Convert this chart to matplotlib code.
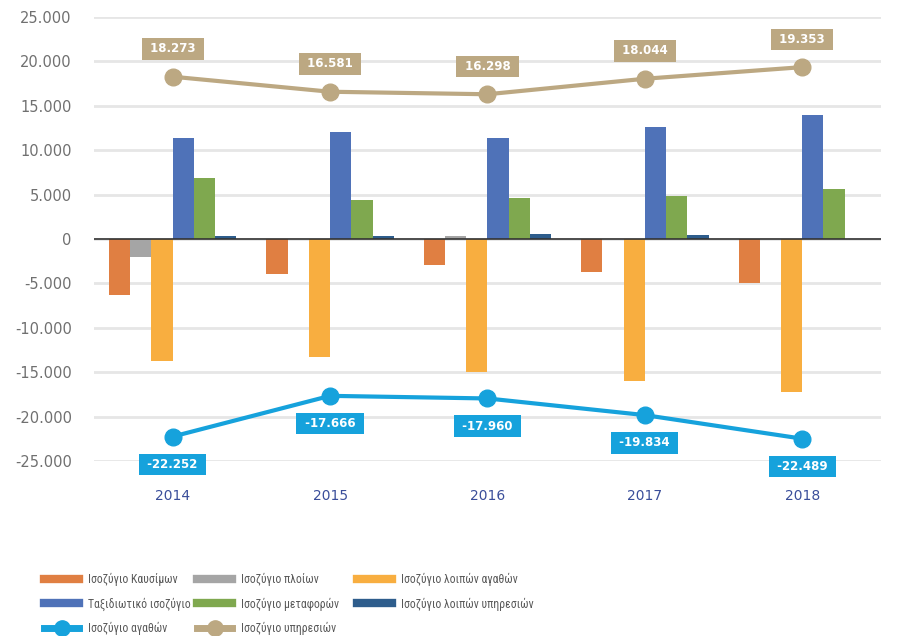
import numpy as np
import matplotlib
matplotlib.use('agg')
from matplotlib import pyplot as plt
from matplotlib import font_manager
from matplotlib.lines import Line2D
from matplotlib.ticker import FuncFormatter

years = ['2014', '2015', '2016', '2017', '2018']

fuel = [-6270, -4000, -2900, -3700, -5000]
ships = [-2000, 0, 350, 0, 0]
other_goods = [-13700, -13250, -14950, -16050, -17200]
travel = [11400, 12050, 11400, 12600, 13950]
transport = [6900, 4400, 4600, 4850, 5630]
other_services = [350, 350, 560, 450, 0]

goods_balance = [-22252, -17666, -17960, -19834, -22489]
services_balance = [18273, 16581, 16298, 18044, 19353]

bar_series = [
    ('Ισοζύγιο Καυσίμων', fuel, '#E07F42'),
    ('Ισοζύγιο πλοίων', ships, '#A5A5A5'),
    ('Ισοζύγιο λοιπών αγαθών', other_goods, '#F8AE40'),
    ('Ταξιδιωτικό ισοζύγιο', travel, '#4F72B8'),
    ('Ισοζύγιο μεταφορών', transport, '#7FA84F'),
    ('Ισοζύγιο λοιπών υπηρεσιών', other_services, '#2E5D8C'),
]
goods_name = 'Ισοζύγιο αγαθών'
services_name = 'Ισοζύγιο υπηρεσιών'
goods_color = '#16A2DC'
services_color = '#BCA882'

available = {f.name for f in font_manager.fontManager.ttflist}
legend_font = 'DejaVu Sans'
for cand in ['Liberation Sans Narrow', 'Roboto Condensed', 'Open Sans Condensed']:
    if cand in available:
        legend_font = cand
        break

def fmt(v, pos=None):
    return f'{v:,.0f}'.replace(',', '.')

fig = plt.figure(figsize=(9.08, 6.36), dpi=100)
ax = fig.add_axes([0.1035, 0.2752, 0.8667, 0.6981])

x = np.arange(len(years))
w = 0.135
for i, (name, vals, col) in enumerate(bar_series):
    ax.bar(x + (i - 2.5) * w, vals, w, color=col, zorder=2)

ax.plot(x, goods_balance, color=goods_color, lw=3, marker='o', ms=12,
        zorder=4, clip_on=False)
ax.plot(x, services_balance, color=services_color, lw=3, marker='o', ms=12,
        zorder=4, clip_on=False)

for xi, v in zip(x, services_balance):
    ax.annotate(' ' + fmt(v) + ' ', (xi, v), xytext=(0, 20), textcoords='offset points',
                ha='center', va='center', color='white', fontsize=8.5, fontweight='bold',
                bbox=dict(boxstyle='square,pad=0.36', fc=services_color, ec='none'), zorder=5)
for xi, v in zip(x, goods_balance):
    ax.annotate(' ' + fmt(v) + ' ', (xi, v), xytext=(0, -20), textcoords='offset points',
                ha='center', va='center', color='white', fontsize=8.5, fontweight='bold',
                bbox=dict(boxstyle='square,pad=0.36', fc=goods_color, ec='none'), zorder=5)

ax.set_xlim(-0.5, 4.5)
ax.set_ylim(-25000, 25000)
ax.set_yticks(np.arange(-25000, 25001, 5000))
ax.yaxis.set_major_formatter(FuncFormatter(fmt))
ax.set_xticks(x)
ax.set_xticklabels(years)
ax.grid(axis='y', color='#E6E6E6', lw=2, zorder=0)
ax.axhline(0, color='#333333', lw=1.2, zorder=3)
for s in ax.spines.values():
    s.set_visible(False)
ax.tick_params(axis='both', length=0)
ax.tick_params(axis='y', labelsize=10.5, labelcolor='#707070', pad=16)
ax.tick_params(axis='x', labelsize=10, labelcolor='#3A4E9A', pad=20)

handles = [Line2D([], [], color=c, lw=6) for _, _, c in bar_series]
handles.append(Line2D([], [], color=goods_color, lw=5, marker='o', ms=11))
handles.append(Line2D([], [], color=services_color, lw=5, marker='o', ms=11))
labels = [n for n, _, _ in bar_series] + [goods_name, services_name]

# legend in three separate columns so each column starts where the original does
columns = [[0, 3, 6], [1, 4, 7], [2, 5]]
col_x = [44, 197, 357]
for idx, cx in zip(columns, col_x):
    fig.legend([handles[i] for i in idx], [labels[i] for i in idx], ncol=1,
               loc='upper left', bbox_to_anchor=(cx / 908, 0.099), frameon=False,
               prop={'family': legend_font, 'size': 8.5}, labelcolor='#595959',
               handlelength=3.0, labelspacing=0.95, handletextpad=0.7,
               borderaxespad=0, borderpad=0)

fig.savefig('out.png', dpi=100)
